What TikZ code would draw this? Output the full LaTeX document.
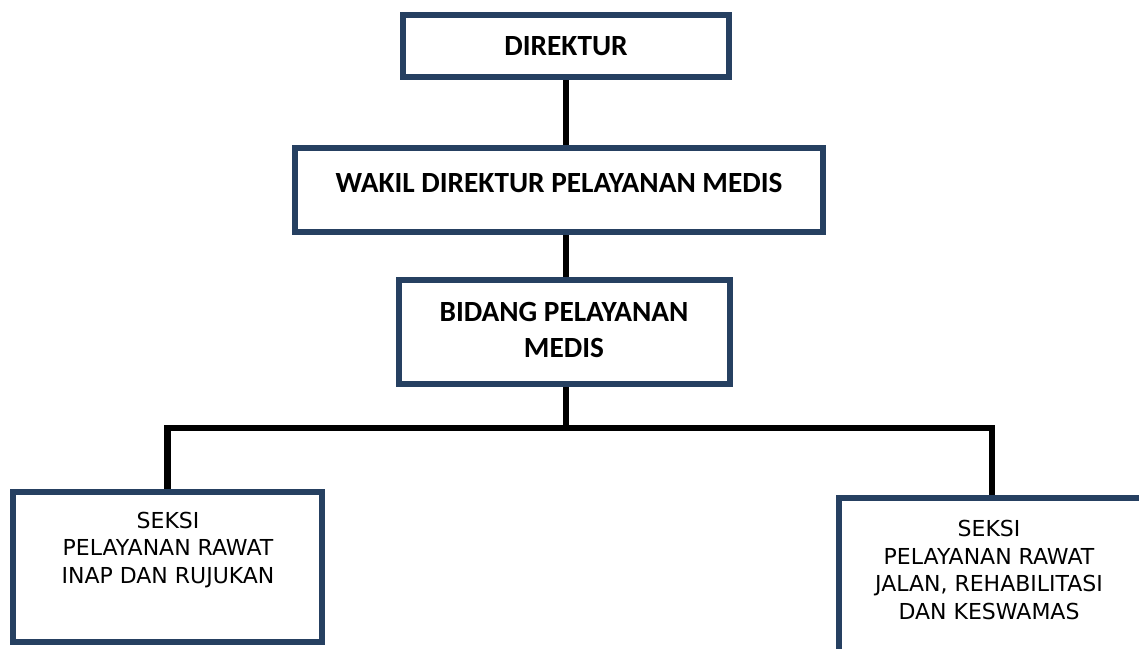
\documentclass[tikz,border=0pt]{standalone}
\usepackage{fontspec}
\setmainfont{Carlito}
\newfontfamily\verdana{DejaVu Sans}
\usepackage{tikz}
\usetikzlibrary{positioning}
\definecolor{navy}{RGB}{38,64,97}

\begin{document}
\begin{tikzpicture}[x=1pt, y=-1pt,
		box/.style={draw=navy, fill=white, line width=6pt, inner sep=0pt},
		tebal/.style={font=\fontsize{29.3}{36}\selectfont\bfseries, align=center, inner sep=0pt},
		biasa/.style={font=\verdana\fontsize{22}{27.5}\selectfont, align=center, inner sep=0pt},
		garis/.style={black, line width=6.5pt}]
			    		\useasboundingbox (0,0) rectangle (1139,648);
			    		\node[box, minimum width=326pt, minimum height=62pt] (dir) at (566,46) {};
			    		\node[box, minimum width=528pt, minimum height=84pt] (wakil) at (559,190) {};
			    		\node[box, minimum width=331pt, minimum height=104pt] (bid) at (564.5,332) {};
			    		\node[box, minimum width=309pt, minimum height=150pt] (sl) at (167.5,567) {};
			    		\node[box, minimum width=320pt, minimum height=170pt] (sr) at (999,583) {};
			    		\node[tebal] (tdir) at (566,46) {DIREKTUR};
			    		\node[tebal] (twakil) at (559,183) {WAKIL DIREKTUR PELAYANAN MEDIS};
			    		\node[tebal] (tbid) at (564,330) {BIDANG PELAYANAN\\MEDIS};
			    		\node[biasa] (tsl) at (168,550) {SEKSI\\PELAYANAN RAWAT\\INAP DAN RUJUKAN};
			    		\node[biasa] (tsr) at (989,570) {SEKSI\\PELAYANAN RAWAT\\JALAN, REHABILITASI\\DAN KESWAMAS};
			    		\coordinate (bus) at (566,428);
			    		\coordinate (busr) at (992,428);
			    		\draw[garis] (dir.south) -- (dir.south |- wakil.north);
			    		\draw[garis] (dir.south |- wakil.south) -- (dir.south |- bid.north);
			    		\draw[garis] (dir.south |- bid.south) -- (bus);
			    		\draw[garis] (sl.north) -- (sl.north |- bus) -- (busr) -- (busr |- sr.north);
			    	\end{tikzpicture}
\end{document}
